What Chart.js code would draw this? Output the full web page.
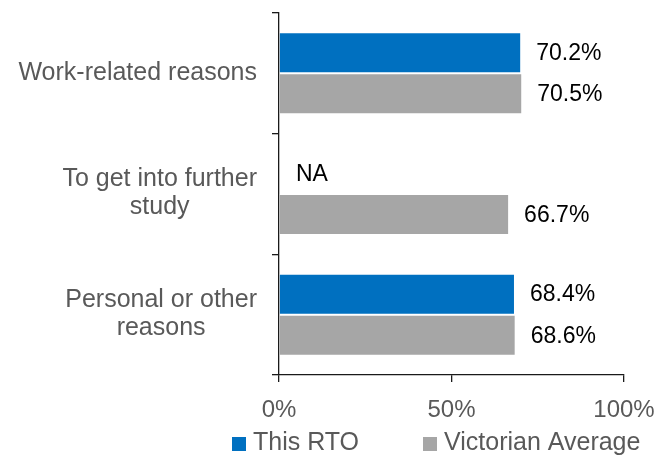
<!DOCTYPE html>
<html>
<head>
<meta charset="utf-8">
<script src="https://cdn.jsdelivr.net/npm/chart.js@4.4.1/dist/chart.umd.min.js"></script>
<style>
  html, body { margin: 0; padding: 0; background: #fff; }
  #wrap { width: 669px; height: 456px; }
</style>
</head>
<body>
<div id="wrap"><canvas id="chart" width="669" height="456"></canvas></div>
<script>
// Chart data
const categories = [
  'Work-related reasons',
  ['To get into further', 'study'],
  ['Personal or other', 'reasons']
]
const seriesNames = ['This RTO', 'Victorian Average']
const thisRto = [70.2, null, 68.4]
const victorianAvg = [70.5, 66.7, 68.6]
const xTicks = [0, 50, 100]

const blue = '#0070C0'
const grey = '#A6A6A6'
const textGrey = '#595959'
const axisColor = '#1a1a1a'
const fontFamily = '"Liberation Sans", Arial, sans-serif'

// Category labels: each block right-aligned to the axis, lines centred inside it
const categoryLabels = {
  id: 'categoryLabels',
  afterDraw(chart) {
    const ctx = chart.ctx
    const yScale = chart.scales.y
    const rightEdge = yScale.right - 22
    const lineGap = 28
    ctx.save()
    ctx.font = '25px ' + fontFamily
    ctx.fillStyle = textGrey
    ctx.textBaseline = 'middle'
    ctx.textAlign = 'center'
    categories.forEach((label, i) => {
      const lines = Array.isArray(label) ? label : [label]
      const widest = Math.max(...lines.map(l => ctx.measureText(l).width))
      const cx = rightEdge - widest / 2
      const cy = yScale.getPixelForValue(i)
      lines.forEach((line, j) => {
        ctx.fillText(line, cx, cy + (j - (lines.length - 1) / 2) * lineGap - 0.5)
      })
    })
    ctx.restore()
  }
}

// Value labels at the end of each bar, "NA" where there is no value
const barLabels = {
  id: 'barLabels',
  afterDatasetsDraw(chart) {
    const ctx = chart.ctx
    const xScale = chart.scales.x
    ctx.save()
    ctx.font = '23px ' + fontFamily
    ctx.fillStyle = '#000'
    ctx.textBaseline = 'middle'
    ctx.textAlign = 'left'
    chart.data.datasets.forEach((ds, di) => {
      const meta = chart.getDatasetMeta(di)
      meta.data.forEach((bar, i) => {
        const v = ds.data[i]
        if (v === null || v === undefined) {
          ctx.fillText('NA', xScale.getPixelForValue(0) + 17, bar.y + 1)
        } else {
          ctx.fillText(v.toFixed(1) + '%', bar.x + 15, bar.y + 1)
        }
      })
    })
    ctx.restore()
  }
}

// Legend under the axis, offset to the right like the original
const bottomLegend = {
  id: 'bottomLegend',
  afterDraw(chart) {
    const ctx = chart.ctx
    const itemX = [232, 423]
    const y = 444
    ctx.save()
    ctx.font = '25px ' + fontFamily
    ctx.textBaseline = 'middle'
    ctx.textAlign = 'left'
    chart.data.datasets.forEach((ds, i) => {
      ctx.fillStyle = ds.backgroundColor
      ctx.fillRect(itemX[i], y - 7, 14, 14)
      ctx.fillStyle = textGrey
      ctx.fillText(ds.label, itemX[i] + 21, y - 1)
    })
    ctx.restore()
  }
}

new Chart(document.getElementById('chart'), {
  type: 'bar',
  data: {
    labels: categories,
    datasets: [
      {
        label: seriesNames[0],
        data: thisRto,
        backgroundColor: blue,
        borderColor: '#fff',
        borderWidth: 1,
        borderSkipped: 'start'
      },
      {
        label: seriesNames[1],
        data: victorianAvg,
        backgroundColor: grey,
        borderColor: '#fff',
        borderWidth: 1,
        borderSkipped: 'start'
      }
    ]
  },
  options: {
    indexAxis: 'y',
    responsive: false,
    animation: false,
    datasets: {
      bar: { categoryPercentage: 0.68, barPercentage: 1 }
    },
    layout: {
      padding: { top: 13, right: 45, left: 0, bottom: 30 }
    },
    scales: {
      x: {
        min: 0,
        max: 100,
        afterBuildTicks: scale => { scale.ticks = xTicks.map(v => ({ value: v })) },
        afterFit: scale => { scale.height = 51 },
        border: { display: true, color: axisColor, width: 1.3 },
        grid: { drawOnChartArea: false, drawTicks: true, tickLength: 7, color: axisColor, lineWidth: 1.3 },
        ticks: {
          padding: 14,
          color: textGrey,
          font: { family: fontFamily, size: 24 },
          callback: v => v + '%'
        }
      },
      y: {
        afterFit: scale => {
          scale.width = 279
          scale.paddingTop = 0
          scale.paddingBottom = 0
        },
        border: { display: true, color: axisColor, width: 1.3 },
        grid: { drawOnChartArea: false, drawTicks: true, tickLength: 7, color: axisColor, lineWidth: 1.3 },
        ticks: { display: false }
      }
    },
    plugins: {
      tooltip: { enabled: false },
      legend: { display: false }
    }
  },
  plugins: [barLabels, categoryLabels, bottomLegend]
})
</script>
</body>
</html>
